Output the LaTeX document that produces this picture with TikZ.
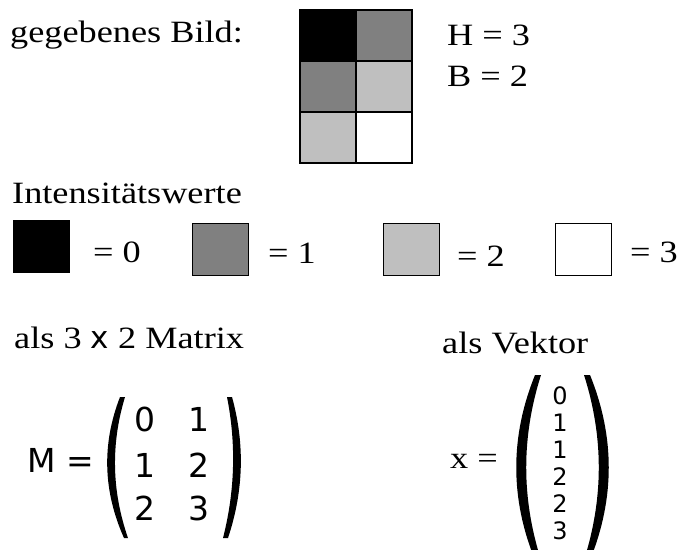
\documentclass[tikz,border=0pt]{standalone}
\usepackage{fontspec}
\setmainfont{Liberation Serif}[FakeStretch=1.17]
\newfontfamily\verd{DejaVu Sans}
\newcommand{\gross}{\fontsize{31}{37}\selectfont}
\definecolor{dunkelgrau}{gray}{0.5}
\definecolor{hellgrau}{gray}{0.75}

\begin{document}
\begin{tikzpicture}[x=1pt,y=-1pt,
    txt/.style={anchor=base west,inner sep=0pt,font=\gross},
    zelle/.style={draw,line width=1.2pt,minimum width=56pt,minimum height=51pt,inner sep=0pt,outer sep=0pt},
    feld/.style={draw,line width=1pt,minimum width=56pt,minimum height=52pt,inner sep=0pt},
    ziffer/.style={anchor=base,inner sep=0pt,font=\verd\fontsize{33}{36}\selectfont},
    klein/.style={anchor=base,inner sep=0pt,font=\verd\fontsize{24}{26}\selectfont}]
  \useasboundingbox (0,0) rectangle (682,549);
  % Bild 3 x 2
  \node[txt] (bild) at (10,42) {gegebenes Bild:};
  \foreach \r/\c/\f in {0/0/black,0/1/dunkelgrau,1/0/dunkelgrau,1/1/hellgrau,2/0/hellgrau,2/1/white}
    \node[zelle,fill=\f] (z\r\c) at ({328+56*\c},{35.5+51*\r}) {};
  \node[txt] (hoehe) at (447,45) {H = 3};
  \node[txt] (breite) at (447,86) {B = 2};
  % Intensitaetswerte
  \node[txt] (intens) at (12,203) {Intensitätswerte};
  \foreach \i/\f/\x/\y/\lx/\ly in {0/black/41/246/93/262,1/dunkelgrau/220/249/268/263,2/hellgrau/411/249/457/266,3/white/583/249/630/262} {
    \node[feld,fill=\f] (f\i) at (\x,\y) {};
    \node[txt] (w\i) at (\lx,\ly) {= \i};
  }
  % Matrix
  \node[txt] (mtitel) at (14,348) {als 3 {\verd\fontsize{31}{30}\selectfont x} 2 Matrix};
  \node[anchor=base west,inner sep=0pt,font=\verd\fontsize{33}{36}\selectfont] (mname) at (27,472) {M =};
  \foreach \r/\y/\a/\b in {1/431/0/1,2/477/1/2,3/520/2/3} {
    \node[ziffer] (m\r1) at (145,\y) {\a};
    \node[ziffer] (m\r2) at (199,\y) {\b};
  }
  \fill (120,397) .. controls (101.7,444) and (103,491) .. (124,538) -- (128,538)
    .. controls (111.7,491) and (110.7,444) .. (125,397) -- cycle;
  \fill (232,397) .. controls (245,444) and (243.7,491) .. (228,538) -- (223,538)
    .. controls (235,491) and (236.3,444) .. (227,397) -- cycle;
  % Vektor
  \node[txt] (vtitel) at (442,353) {als Vektor};
  \node[txt] (vname) at (450,468) {x =};
  \foreach \i/\v in {0/0,1/1,2/1,3/2,4/2,5/3}
    \node[klein] (v\i) at (560,{404+27*\i}) {\v};
  \fill (535,375) .. controls (510,436.7) and (510,498.3) .. (535,560) -- (541,560)
    .. controls (521.3,498.3) and (521.3,436.7) .. (541,375) -- cycle;
  \fill (590,375) .. controls (615,436.7) and (615,498.3) .. (590,560) -- (584,560)
    .. controls (603.7,498.3) and (603.7,436.7) .. (584,375) -- cycle;
\end{tikzpicture}
\end{document}
